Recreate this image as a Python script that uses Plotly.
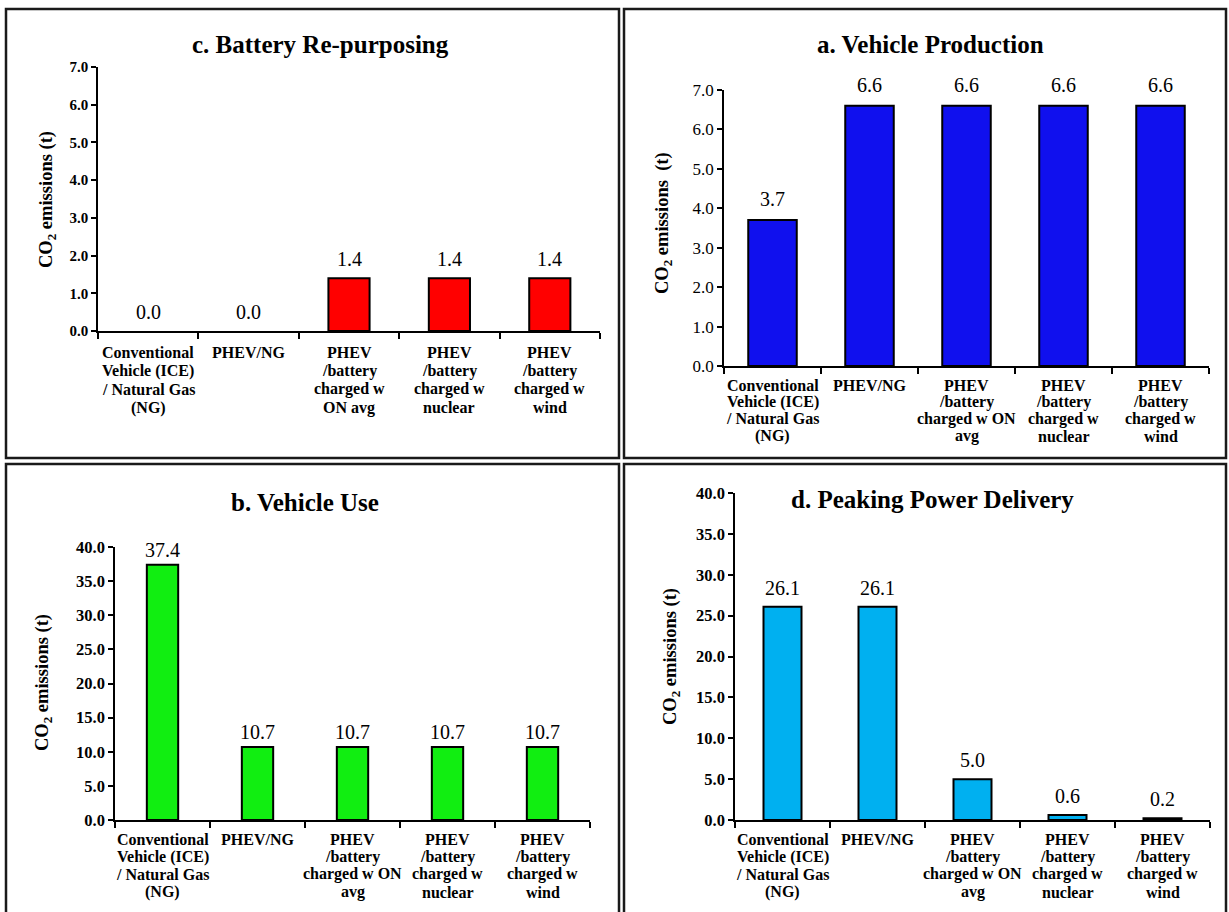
import plotly.graph_objects as go

W, H = 1229, 912

# Scenario labels (line breaks as printed under each bar)
labels_c = [
    "Conventional<br>Vehicle (ICE)<br>/ Natural Gas<br>(NG)",
    "PHEV/NG",
    "PHEV<br>/battery<br>charged w<br>ON avg",
    "PHEV<br>/battery<br>charged w<br>nuclear",
    "PHEV<br>/battery<br>charged w<br>wind",
]
labels_abd = [
    "Conventional<br>Vehicle (ICE)<br>/ Natural Gas<br>(NG)",
    "PHEV/NG",
    "PHEV<br>/battery<br>charged w ON<br>avg",
    "PHEV<br>/battery<br>charged w<br>nuclear",
    "PHEV<br>/battery<br>charged w<br>wind",
]

# CO2 emissions (t) per life-cycle stage
battery_repurposing = [0.0, 0.0, 1.4, 1.4, 1.4]
vehicle_production = [3.7, 6.6, 6.6, 6.6, 6.6]
vehicle_use = [37.4, 10.7, 10.7, 10.7, 10.7]
peaking_power = [26.1, 26.1, 5.0, 0.6, 0.2]

SERIF = "Liberation Serif"


def px_x(p):
    return p / W


def px_y(p):
    return 1 - p / H


panels = [
    dict(key="", title="c. Battery Re-purposing", values=battery_repurposing,
         labels=labels_c, color="#FF0000", bw=0.41, ymax=7, dtick=1,
         plot=(98, 600, 67, 331), title_xy=(320, 44),
         ytitle="CO<sub>2</sub> emissions (t)", ytitle_xy=(47, 200),
         tickfont=dict(family=SERIF, size=15, color="black"), tickbold=True,
         lab_first=352, lab_step=18.6, val_shift=19),
    dict(key="2", title="a. Vehicle Production", values=vehicle_production,
         labels=labels_abd, color="#1010EE", bw=0.5, ymax=7, dtick=1,
         plot=(724, 1209, 90, 366), title_xy=(931, 44),
         ytitle="CO<sub>2</sub> emissions  (t)", ytitle_xy=(663, 223),
         tickfont=dict(family=SERIF, size=17, color="black"), tickbold=False,
         lab_first=385, lab_step=17, val_shift=21),
    dict(key="3", title="b. Vehicle Use", values=vehicle_use,
         labels=labels_abd, color="#11EE11", bw=0.33, ymax=40, dtick=5,
         plot=(115, 590, 547, 820), title_xy=(305, 502),
         ytitle="CO<sub>2</sub> emissions (t)", ytitle_xy=(43, 683),
         tickfont=dict(family=SERIF, size=16.5, color="black"), tickbold=True,
         lab_first=839, lab_step=17.7, val_shift=15),
    dict(key="4", title="d. Peaking Power Delivery", values=peaking_power,
         labels=labels_abd, color="#00B0F0", bw=0.4, ymax=40, dtick=5,
         plot=(735, 1210, 493, 820), title_xy=(932, 499),
         ytitle="CO<sub>2</sub> emissions (t)", ytitle_xy=(671, 657),
         tickfont=dict(family=SERIF, size=16.5, color="black"), tickbold=True,
         lab_first=839, lab_step=17.7, val_shift=19),
]

fig = go.Figure()
annotations = []
layout_axes = {}

for p in panels:
    k = p["key"]
    xa, ya = "x" + k, "y" + k
    x0, x1, y0, y1 = p["plot"]
    xs = list(range(len(p["values"])))
    # zero-valued bars carry no visible outline
    outline = [2 if v > 0 else 0 for v in p["values"]]
    fig.add_trace(go.Bar(
        x=xs, y=p["values"], width=p["bw"], xaxis=xa, yaxis=ya,
        marker=dict(color=p["color"], line=dict(color="black", width=outline)),
        showlegend=False, hoverinfo="skip",
    ))
    tick_vals = [v * p["dtick"] for v in range(int(p["ymax"] / p["dtick"]) + 1)]
    tick_text = [("<b>%.1f</b>" if p["tickbold"] else "%.1f") % v for v in tick_vals]
    layout_axes["xaxis" + k] = dict(
        domain=[px_x(x0), px_x(x1)], anchor=ya, range=[-0.5, len(xs) - 0.5],
        tickvals=[i - 0.5 for i in range(len(xs) + 1)], showticklabels=False,
        ticks="outside", ticklen=6, tickwidth=1.5, tickcolor="black",
        showline=True, linecolor="black", linewidth=1.5, automargin=False,
        showgrid=False, zeroline=False, fixedrange=True,
    )
    layout_axes["yaxis" + k] = dict(
        domain=[px_y(y1), px_y(y0)], anchor=xa, range=[0, p["ymax"]],
        tickvals=tick_vals, ticktext=tick_text, tickfont=p["tickfont"],
        ticks="outside", ticklen=5, tickwidth=1.5, tickcolor="black",
        showline=True, linecolor="black", linewidth=1.5, automargin=False,
        showgrid=False, zeroline=False, fixedrange=True,
    )
    # panel title
    annotations.append(dict(
        text="<b>" + p["title"] + "</b>", xref="paper", yref="paper",
        x=px_x(p["title_xy"][0]), y=px_y(p["title_xy"][1]),
        xanchor="center", yanchor="middle", showarrow=False,
        font=dict(family=SERIF, size=25, color="black"),
    ))
    # y-axis title
    annotations.append(dict(
        text="<b>" + p["ytitle"] + "</b>", xref="paper", yref="paper",
        x=px_x(p["ytitle_xy"][0]), y=px_y(p["ytitle_xy"][1]),
        xanchor="center", yanchor="middle", textangle=-90, showarrow=False,
        font=dict(family=SERIF, size=18.5, color="black"),
    ))
    # value labels and category labels (one annotation per printed line)
    for i, v in enumerate(p["values"]):
        annotations.append(dict(
            text="%.1f" % v, xref=xa, yref=ya, x=i, y=v,
            xanchor="center", yanchor="middle", yshift=p["val_shift"],
            showarrow=False, font=dict(family=SERIF, size=20, color="black"),
        ))
        for j, line in enumerate(p["labels"][i].split("<br>")):
            annotations.append(dict(
                text="<b>" + line + "</b>", xref=xa, yref="paper",
                x=i, y=px_y(p["lab_first"] + j * p["lab_step"]),
                xanchor="center", yanchor="middle", showarrow=False,
                font=dict(family=SERIF, size=16, color="black"),
            ))

# framed boxes around each panel
boxes = [(6, 619, 9, 458), (624, 1226, 9, 458), (6, 619, 464, 930), (624, 1226, 464, 930)]
shapes = [
    dict(type="rect", xref="paper", yref="paper",
         x0=px_x(a), x1=px_x(b), y0=px_y(d), y1=px_y(c),
         line=dict(color="#1a1a1a", width=2.5), fillcolor="rgba(0,0,0,0)")
    for a, b, c, d in boxes
]

fig.update_layout(
    width=W, height=H, margin=dict(l=0, r=0, t=0, b=0, autoexpand=False),
    paper_bgcolor="white", plot_bgcolor="white",
    annotations=annotations, shapes=shapes, **layout_axes,
)

fig.write_html("out.html")
